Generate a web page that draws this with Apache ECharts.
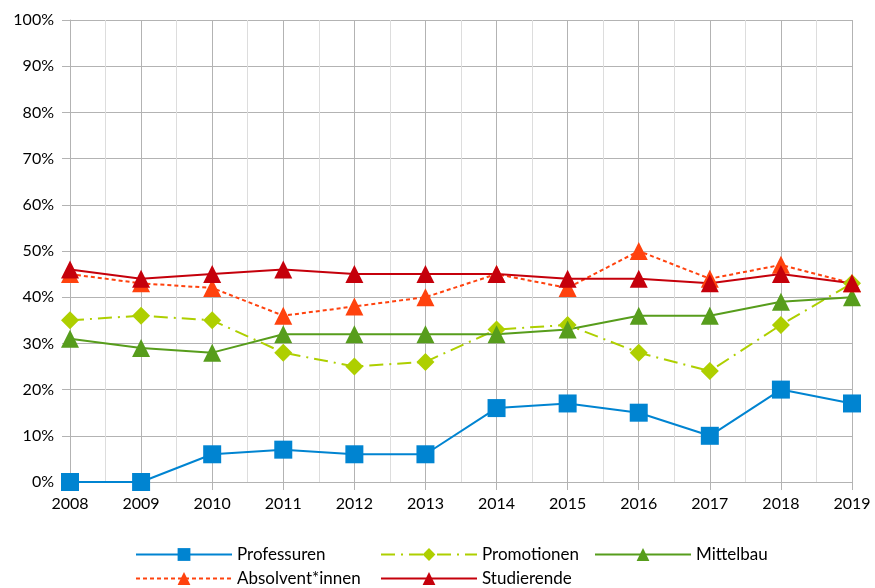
<!DOCTYPE html>
<html>
<head>
<meta charset="utf-8">
<script src="https://cdn.jsdelivr.net/npm/echarts@6/dist/echarts.min.js"></script>
<style>
  html, body { margin: 0; padding: 0; background: #fff; }
  #chart { width: 875px; height: 588px; }
</style>
</head>
<body>
<div id="chart"></div>
<script>
const years = [2008, 2009, 2010, 2011, 2012, 2013, 2014, 2015, 2016, 2017, 2018, 2019];
const professuren = [0, 0, 6, 7, 6, 6, 16, 17, 15, 10, 20, 17];
const promotionen = [35, 36, 35, 28, 25, 26, 33, 34, 28, 24, 34, 43];
const mittelbau = [31, 29, 28, 32, 32, 32, 32, 33, 36, 36, 39, 40];
const absolventen = [45, 43, 42, 36, 38, 40, 45, 42, 50, 44, 47, 43];
const studierende = [46, 44, 45, 46, 45, 45, 45, 44, 44, 43, 45, 43];

const font = "Lato";
const pairs = (vals) => vals.map((v, i) => [years[i], v]);

function line(name, vals, color, symbol, size, dash) {
  return {
    name: name,
    type: "line",
    data: pairs(vals),
    symbol: symbol,
    symbolSize: size,
    showSymbol: true,
    animation: false,
    lineStyle: { color: color, width: 2, type: dash || "solid" },
    itemStyle: { color: color },
  };
}

// one legend per item so the columns line up like the original table
function leg(name, left, top) {
  return {
    data: [name],
    left: left,
    top: top,
    padding: 0,
    itemWidth: 96,
    itemHeight: 16,
    textStyle: { fontFamily: font, fontSize: 17, color: "#000" },
  };
}

const chart = echarts.init(document.getElementById("chart"));
const option = {
  backgroundColor: "#fff",
  animation: false,
  grid: { left: 70, right: 23, top: 20, bottom: 106 },
  legend: [
    leg("Professuren", 135, 546),
    leg("Promotionen", 380, 546),
    leg("Mittelbau", 594, 546),
    leg("Absolvent*innen", 135, 570),
    leg("Studierende", 380, 570),
  ],
  xAxis: {
    type: "value",
    min: 2008,
    max: 2019,
    interval: 1,
    axisLine: { show: true, lineStyle: { color: "#b3b3b3", width: 1 } },
    axisTick: { show: true, length: 8, lineStyle: { color: "#b3b3b3" } },
    axisLabel: {
      color: "#000", fontFamily: font, fontSize: 16, margin: 14,
      formatter: (v) => String(v),
    },
    splitLine: { show: true, lineStyle: { color: "#b3b3b3", width: 1 } },
    minorTick: { show: false, splitNumber: 2 },
    minorSplitLine: { show: true, lineStyle: { color: "#dddddd", width: 1 } },
  },
  yAxis: {
    type: "value",
    min: 0,
    max: 100,
    interval: 10,
    axisLine: { show: true, lineStyle: { color: "#b3b3b3", width: 1 } },
    axisTick: { show: true, length: 8, lineStyle: { color: "#b3b3b3" } },
    axisLabel: { color: "#000", fontFamily: font, fontSize: 16, margin: 16, formatter: "{value}%" },
    splitLine: { show: true, lineStyle: { color: "#b3b3b3", width: 1 } },
  },
  series: [
    line("Professuren", professuren, "#0084d1", "rect", 18),
    line("Promotionen", promotionen, "#aecf00", "diamond", 18, [14, 6, 2, 6]),
    line("Mittelbau", mittelbau, "#579d1c", "triangle", 18),
    line("Absolvent*innen", absolventen, "#ff420e", "triangle", 18, [4, 3]),
    line("Studierende", studierende, "#c5000b", "triangle", 18),
  ],
};
chart.setOption(option);
</script>
</body>
</html>
